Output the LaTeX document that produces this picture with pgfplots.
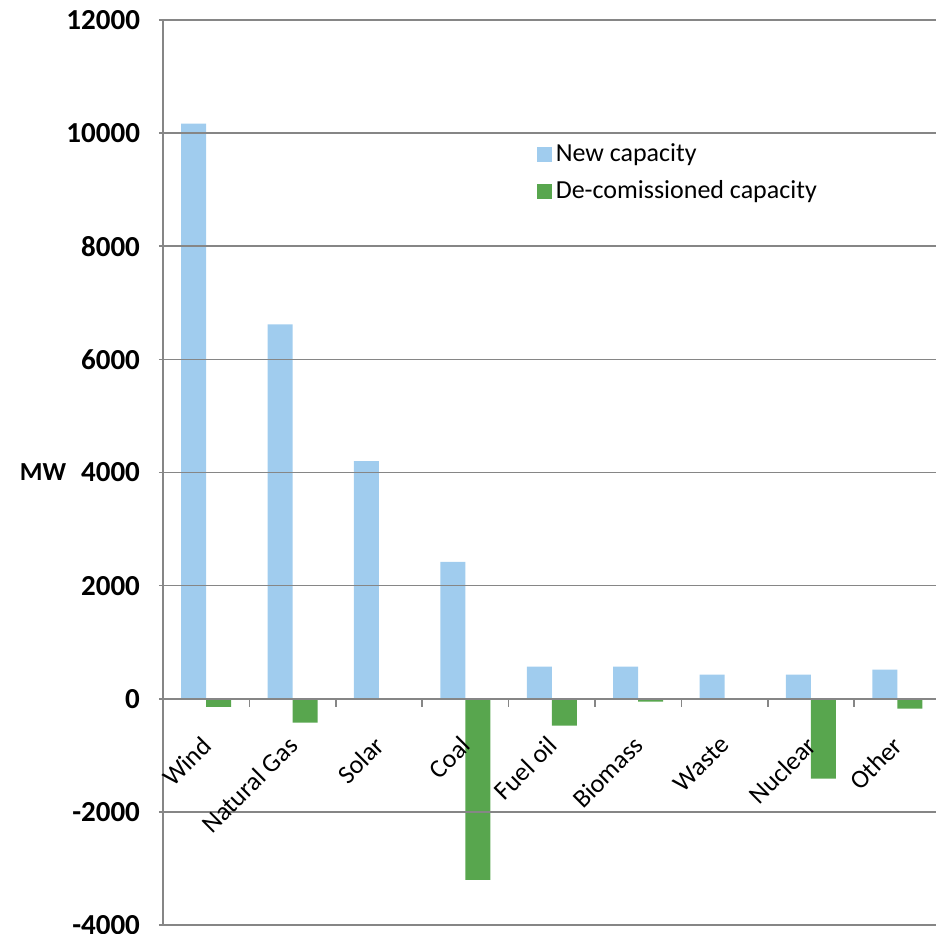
\documentclass[border=0pt]{standalone}
\usepackage{pgfplots}
\pgfplotsset{compat=1.18}
\usepackage{fontspec}
\setmainfont{Carlito}
\definecolor{newcap}{RGB}{160,204,238}
\definecolor{decom}{RGB}{88,166,78}
\definecolor{gridc}{RGB}{134,134,134}
\begin{document}
\begin{tikzpicture}
\begin{axis}[
  at={(0,0)}, anchor=south west,
  scale only axis,
  width=386.5pt, height=452.5pt,
  ymin=-4000, ymax=12000,
  ytick={-4000,-2000,...,12000},
  scaled y ticks=false,
  xmin=-0.5, xmax=8.447,
  xtick={0,...,8},
  xticklabels={Wind,Natural Gas,Solar,Coal,Fuel oil,Biomass,Waste,Nuclear,Other},
  minor xtick={0.5,1.5,...,7.5},
  major x tick style={draw=none},
  minor tick length=4pt,
  major tick length=4pt,
  tick align=outside,
  axis x line=middle,
  axis y line=left,
  axis line style={-, draw=gridc, line width=0.8pt},
  tick style={draw=gridc, line width=0.8pt},
  ymajorgrids,
  grid style={draw=gridc, line width=0.8pt},
  /pgf/number format/assume math mode=true,
  /pgf/number format/set thousands separator={},
  yticklabel style={font=\bfseries\fontsize{14.5}{17}\selectfont, xshift=-6pt},
  xticklabel style={font=\fontsize{13}{15}\selectfont, xshift=-3pt, yshift=-13.8pt, rotate=45, anchor=north east, inner sep=0pt},
  ylabel={MW},
  every axis y label/.style={at={(rel axis cs:0,0.5)}, anchor=center, xshift=-60pt, font=\bfseries\fontsize{13}{15}\selectfont},
  ybar=0pt,
  bar width=12.5pt,
  legend style={at={(rel axis cs:0.483,0.868)}, anchor=north west, draw=none, fill=none,
    font=\fontsize{13}{15}\selectfont, row sep=4pt, inner sep=0pt},
  legend cell align=left,
  clip=false,
  axis on top,
]
\addplot[fill=newcap, draw=none, legend image code/.code={\fill[newcap] (0pt,-3.7pt) rectangle (7.5pt,3.7pt);}]
  coordinates {(0,10170) (1,6620) (2,4200) (3,2420) (4,570) (5,570) (6,425) (7,425) (8,515)};
\addlegendentry{New capacity}
\addplot[fill=decom, draw=none, legend image code/.code={\fill[decom] (0pt,-3.7pt) rectangle (7.5pt,3.7pt);}]
  coordinates {(0,-145) (1,-420) (2,0) (3,-3200) (4,-475) (5,-50) (6,0) (7,-1410) (8,-175)};
\addlegendentry{De-comissioned capacity}
\end{axis}
\pgfresetboundingbox
\path[use as bounding box] (-81.5pt,-4pt) rectangle (386.5pt,462.5pt);
\end{tikzpicture}
\end{document}
